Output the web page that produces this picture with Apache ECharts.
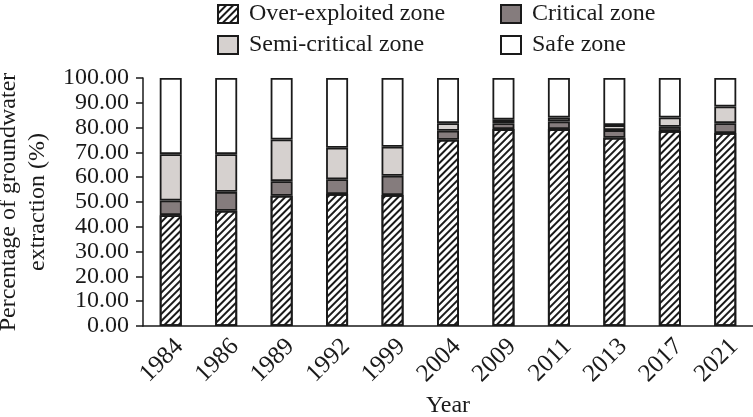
<!DOCTYPE html>
<html>
<head>
<meta charset="utf-8">
<script src="https://cdn.jsdelivr.net/npm/echarts@6/dist/echarts.min.js"></script>
<style>html,body{margin:0;padding:0;background:#fff}#c{width:753px;height:417px}</style>
</head>
<body>
<div id="c"></div>
<script>
var years = ['1984','1986','1989','1992','1999','2004','2009','2011','2013','2017','2021'];
var overExploited = [44.7, 46.5, 52.5, 53.2, 52.8, 75.1, 79.4, 79.4, 75.9, 78.6, 77.8];
var critical = [5.9, 7.6, 5.9, 6.0, 7.8, 3.6, 2.4, 3.1, 3.1, 1.7, 4.0];
var semiCritical = [18.7, 15.2, 16.8, 12.7, 11.7, 3.1, 1.4, 1.6, 2.0, 3.8, 6.7];
var safe = [30.7, 30.7, 24.8, 28.1, 27.7, 18.2, 16.8, 15.9, 19.0, 15.9, 11.5];
var yTicks = [0, 10, 20, 30, 40, 50, 60, 70, 80, 90, 100];

var FONT = 'Liberation Serif';
var chart = echarts.init(document.getElementById('c'));
function seg(name, data, color, decal) {
  var s = {
    name: name, type: 'bar', stack: 'total', data: data, barWidth: 22,
    itemStyle: { color: color, borderColor: '#1a1a1a', borderWidth: 1.8 },
    emphasis: { disabled: true }
  };
  if (decal) s.itemStyle.decal = decal;
  return s;
}
var hatch = { symbol: 'rect', symbolSize: 1, dashArrayX: [1, 0], dashArrayY: [1.3, 2.1], rotation: -Math.PI / 4, color: '#1a1a1a' };
var legendCommon = {
  orient: 'vertical', top: -3, icon: 'rect', itemWidth: 20, itemHeight: 18, itemGap: 7,
  textStyle: { fontFamily: FONT, fontSize: 24, color: '#1a1a1a', padding: [0, 0, 0, 6] },
  selectedMode: false
};
chart.setOption({
  animation: false,
  aria: { decal: { show: false } },
  textStyle: { fontFamily: FONT },
  legend: [
    Object.assign({ left: 212, data: ['Over-exploited zone', 'Semi-critical zone'] }, legendCommon),
    Object.assign({ left: 495, data: ['Critical zone', 'Safe zone'] }, legendCommon)
  ],
  grid: { left: 143, right: 0, top: 78, bottom: 91, containLabel: false, outerBoundsMode: 'none' },
  xAxis: {
    type: 'category', data: years,
    name: 'Year', nameLocation: 'middle', nameGap: 66,
    nameTextStyle: { fontFamily: FONT, fontSize: 24, color: '#1a1a1a' },
    axisLine: { lineStyle: { color: '#1a1a1a', width: 1.5 } },
    axisTick: { alignWithLabel: true, length: 8, lineStyle: { color: '#1a1a1a', width: 1.5 } },
    axisLabel: { rotate: 45, verticalAlign: 'top', fontFamily: FONT, fontSize: 25, color: '#1a1a1a', margin: 8 }
  },
  yAxis: {
    type: 'value', min: 0, max: 100, interval: 10,
    name: 'Percentage of groundwater\nextraction (%)', nameLocation: 'middle', nameGap: 86, nameRotate: 90,
    nameTextStyle: { fontFamily: FONT, fontSize: 24, color: '#1a1a1a', lineHeight: 29 },
    axisLine: { show: true, lineStyle: { color: '#1a1a1a', width: 1.5 } },
    axisTick: { show: true, length: 7, lineStyle: { color: '#1a1a1a', width: 1.5 } },
    splitLine: { show: false },
    axisLabel: {
      fontFamily: FONT, fontSize: 24, color: '#1a1a1a', margin: 14,
      formatter: function (v) { return yTicks.indexOf(v) >= 0 ? v.toFixed(2) : ''; }
    }
  },
  series: [
    seg('Over-exploited zone', overExploited, '#ffffff', hatch),
    seg('Critical zone', critical, '#857c7d'),
    seg('Semi-critical zone', semiCritical, '#d6d1cf'),
    seg('Safe zone', safe, '#ffffff')
  ]
});
</script>
</body>
</html>
